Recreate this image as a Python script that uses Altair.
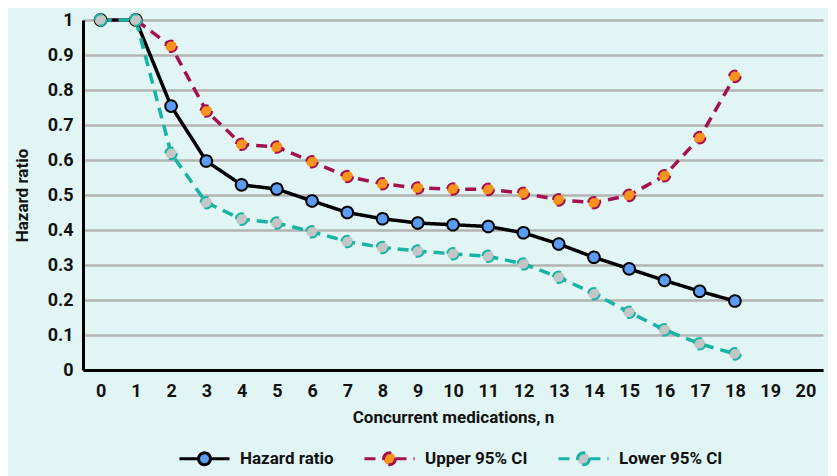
import altair as alt
import pandas as pd

n = list(range(19))
hazard = [1, 1, 0.754, 0.597, 0.529, 0.517, 0.483, 0.45, 0.432, 0.42, 0.415, 0.41, 0.392, 0.36, 0.322, 0.289, 0.256, 0.225, 0.197]
upper = [1, 1, 0.925, 0.74, 0.645, 0.637, 0.595, 0.553, 0.532, 0.52, 0.517, 0.516, 0.505, 0.486, 0.478, 0.499, 0.555, 0.664, 0.839]
lower = [1, 1, 0.619, 0.478, 0.431, 0.42, 0.395, 0.367, 0.35, 0.34, 0.332, 0.325, 0.303, 0.265, 0.218, 0.165, 0.115, 0.075, 0.046]
series_names = ["Hazard ratio", "Upper 95% CI", "Lower 95% CI"]
x_ticks = list(range(21))
y_ticks = [0, 0.1, 0.2, 0.3, 0.4, 0.5, 0.6, 0.7, 0.8, 0.9, 1]

rows = []
for name, vals in zip(series_names, [hazard, upper, lower]):
    for xi, v in zip(n, vals):
        rows.append({"n": xi, "value": v, "series": name})
df = pd.DataFrame(rows)

line_colors = ["#000000", "#a3114f", "#17b3a3"]
fill_colors = ["#5b9cf5", "#f7931e", "#c3c6c6"]
dashes = [[1, 0], [11, 7], [11, 7]]
FONT = "Roboto"

legend = alt.Legend(
    title=None, orient="none", direction="horizontal", legendX=104, legendY=421,
    symbolType="M-1.6,0L-0.38,0M0.38,0L1.6,0M-0.38,0A0.38,0.38 0 1,1 0.38,0A0.38,0.38 0 1,1 -0.38,0Z",
    symbolSize=980, symbolStrokeWidth=3,
    labelFont=FONT, labelFontSize=17, labelFontWeight="bold", labelColor="#111111",
    columnPadding=24, labelOffset=18,
)

x_enc = alt.X("n:Q", scale=alt.Scale(domain=[-0.5, 20.5], nice=False),
              axis=alt.Axis(values=x_ticks, title="Concurrent medications, n", grid=False,
                            ticks=False, labelPadding=12, titlePadding=9))
y_enc = alt.Y("value:Q", scale=alt.Scale(domain=[0, 1], nice=False),
              axis=alt.Axis(values=y_ticks, title="Hazard ratio", grid=True, ticks=False,
                            labelPadding=10, titlePadding=16, format="~g"))

stroke = alt.Stroke("series:N", scale=alt.Scale(domain=series_names, range=line_colors), legend=legend)
fill = alt.Fill("series:N", scale=alt.Scale(domain=series_names, range=fill_colors), legend=legend)
dash = alt.StrokeDash("series:N", scale=alt.Scale(domain=series_names, range=dashes), legend=legend)

lines = alt.Chart(df).mark_line(strokeWidth=3.5).encode(x=x_enc, y=y_enc, stroke=stroke, strokeDash=dash, detail="series:N")
points = alt.Chart(df).mark_point(filled=False, size=135, strokeWidth=2, opacity=1).encode(
    x=x_enc, y=y_enc, stroke=stroke, fill=fill,
    strokeDash=alt.StrokeDash("series:N", scale=alt.Scale(domain=series_names, range=[[1, 0], [3, 2], [3, 2]]), legend=None)
)

chart = alt.layer(lines, points).properties(
    width=740, height=350, background="#e1f6f4", padding={"left": 5, "top": 2, "right": 5, "bottom": 5}
).configure_view(stroke=None).configure_axis(
    labelFont=FONT, labelFontSize=18, labelFontWeight="bold", labelColor="#111111",
    titleFont=FONT, titleFontSize=17, titleFontWeight="bold", titleColor="#111111",
    domainColor="#000000", domainWidth=3, gridColor="#b3b3b3", gridWidth=2.5,
).configure_axisX(labelAngle=0)

chart.save("out.html", embed_options={"renderer": "svg", "actions": False})
